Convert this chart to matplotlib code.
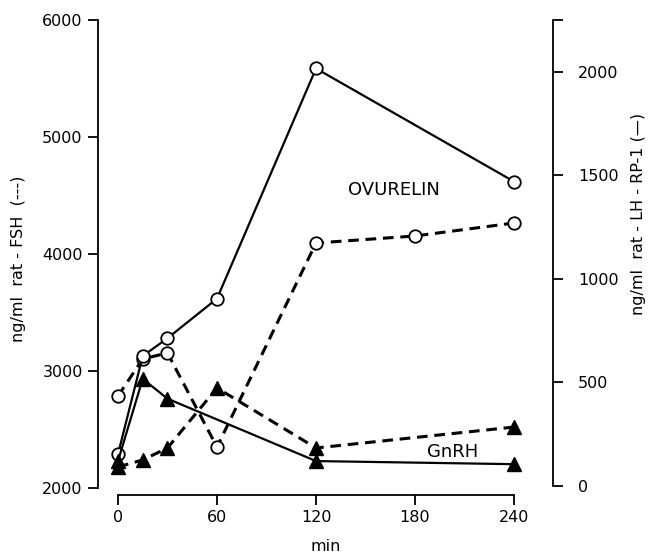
import numpy as np
import matplotlib.pyplot as plt

# time points (min)
t_ovu_lh = [0, 15, 30, 60, 120, 240]
lh_ovu = [153, 627, 713, 904, 2015, 1469]

t_ovu_fsh = [0, 15, 30, 60, 120, 180, 240]
fsh_ovu = [2786, 3103, 3154, 2350, 4094, 4154, 4265]

t_gn_lh = [0, 15, 30, 120, 240]
lh_gn = [120, 517, 421, 120, 105]

t_gn_fsh = [0, 15, 30, 60, 120, 240]
fsh_gn = [2180, 2240, 2342, 2855, 2342, 2521]

fs = 11.5
plt.rcParams['font.family'] = 'DejaVu Sans'

fig = plt.figure(figsize=(6.48, 5.6), dpi=100)
ax = fig.add_axes([98/648, 72/560, 455/648, 468/560])
ax2 = ax.twinx()

dash = (0, (3.5, 2.2))
# FSH (left axis, dashed)
ax.plot(t_ovu_fsh, fsh_ovu, color='black', lw=2.2, linestyle=dash,
        marker='o', ms=9, mfc='white', mec='black', mew=1.3, zorder=3)
ax.plot(t_gn_fsh, fsh_gn, color='black', lw=2.2, linestyle=dash,
        marker='^', ms=10, mfc='black', mec='black', zorder=3)

# LH (right axis, solid)
ax2.plot(t_ovu_lh, lh_ovu, color='black', lw=1.6,
         marker='o', ms=9, mfc='white', mec='black', mew=1.3, zorder=3)
ax2.plot(t_gn_lh, lh_gn, color='black', lw=1.6,
         marker='^', ms=10, mfc='black', mec='black', zorder=3)

ax.set_xlim(-12.1, 263.6)
ax.set_ylim(2000, 6000)
ax2.set_ylim(-10, 2249)

for a in (ax, ax2):
    a.spines['top'].set_visible(False)
    for s in a.spines.values():
        s.set_linewidth(1.3)
    a.patch.set_visible(False)

ax.spines['right'].set_visible(False)
ax.spines['left'].set_bounds(2000, 6000)
ax.spines['bottom'].set_bounds(0, 240)
ax.spines['bottom'].set_position(('outward', 5))
ax2.spines['left'].set_visible(False)
ax2.spines['bottom'].set_visible(False)
ax2.spines['right'].set_bounds(0, 2249)

ax.set_xticks([0, 60, 120, 180, 240])
ax.set_yticks([2000, 3000, 4000, 5000, 6000])
ax2.set_yticks([0, 500, 1000, 1500, 2000, 2249])
ax2.set_yticklabels(['0', '500', '1000', '1500', '2000', ''])

ax.tick_params(axis='both', direction='out', length=7, width=1.3,
               labelsize=fs, pad=4)
ax2.tick_params(axis='y', direction='out', length=7, width=1.3,
                labelsize=fs, pad=11)

ax.set_xlabel('min', fontsize=fs, labelpad=10)
ax.set_ylabel('ng/ml  rat - FSH  (---)', fontsize=fs)
ax.yaxis.set_label_coords(-0.158, 0.49)
ax2.set_ylabel('ng/ml  rat - LH - RP-1 (\u2014)', fontsize=fs)
ax2.yaxis.set_label_coords(1.172, 0.585)

ax.text(167, 4550, 'OVURELIN', fontsize=13, ha='center', va='center')
ax.text(203, 2305, 'GnRH', fontsize=13, ha='center', va='center')

fig.savefig('out.png', dpi=100)
